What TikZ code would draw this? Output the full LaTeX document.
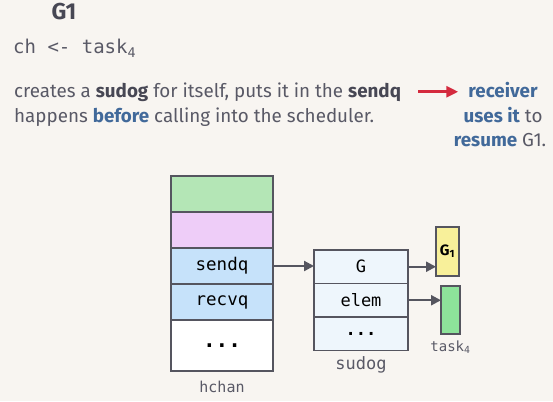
\documentclass[tikz,border=0pt]{standalone}
\usepackage{fontspec}
\setmainfont{Fira Sans}
\setmonofont{DejaVu Sans Mono}
\usepackage{tikz}
\usetikzlibrary{arrows.meta, positioning}
\definecolor{bgcol}{HTML}{F8F5F1}
\definecolor{txtgray}{HTML}{595966}
\definecolor{darkgray}{HTML}{474754}
\definecolor{kwblue}{HTML}{41699A}
\definecolor{edgegray}{HTML}{55555F}
\definecolor{cellgreen}{HTML}{B4E6B6}
\definecolor{cellpink}{HTML}{EECDF8}
\definecolor{cellblue}{HTML}{C6E2FA}
\definecolor{sudogfill}{HTML}{EEF6FC}
\definecolor{gyellow}{HTML}{F8F09A}
\definecolor{tgreen}{HTML}{8DE39A}
\definecolor{arrred}{HTML}{D42A3E}
\newcommand{\kw}[1]{\textcolor{kwblue}{\textbf{#1}}}
\newcommand{\hl}[1]{\textcolor{darkgray}{\textbf{#1}}}
\tikzset{
  chancell/.style={rectangle, draw=edgegray, line width=2pt, outer sep=0pt, inner sep=0pt, minimum width=102pt, minimum height=36pt, text=black, font=\ttfamily\fontsize{17.5}{17.5}\selectfont},
  sudogcell/.style={rectangle, draw=edgegray, line width=1.4pt, outer sep=0pt, inner sep=0pt, minimum width=94pt, minimum height=33.5pt, fill=sudogfill, text=black, font=\ttfamily\fontsize{17}{17}\selectfont},
  objbox/.style={rectangle, draw=edgegray, line width=1.8pt, outer sep=0pt, inner sep=0pt},
  boxlabel/.style={text=txtgray, font=\ttfamily\fontsize{14}{14}\selectfont},
  ptrarr/.style={draw=edgegray, line width=2.2pt, -{Triangle[length=10pt, width=10pt]}},
  redarr/.style={draw=arrred, line width=3pt, -{Triangle[length=12pt, width=11pt]}},
}
\begin{document}
\begin{tikzpicture}[x=1pt, y=-1pt, text=txtgray, font=\fontsize{18.8}{18.8}\selectfont]
\useasboundingbox[fill=bgcol] (0,0) rectangle (553,401);

\node[text=darkgray, font=\bfseries\fontsize{23}{23}\selectfont] (title) at (64,12) {G1};
\node[anchor=west, inner sep=0pt, font=\ttfamily\fontsize{19}{19}\selectfont] (code) at (13,48) {ch <- task\textsubscript{4}};
\node[anchor=base west, inner sep=0pt] (desc1) at (14,97) {creates a \hl{sudog} for itself, puts it in the \hl{sendq}};
\node[anchor=base west, inner sep=0pt] (desc2) at (14,122) {happens \kw{before} calling into the scheduler.};
\node[anchor=base, inner sep=0pt] (recv1) at (503,97) {\kw{receiver}};
\node[anchor=base, inner sep=0pt] (recv2) at (503,122) {\kw{uses it} to};
\node[anchor=base, inner sep=0pt] (recv3) at (500,146) {\kw{resume} G1.};
\draw[redarr, shorten <=17pt, shorten >=10pt] (desc1.east) -- (desc1.east -| recv1.west);

\node[chancell, fill=cellgreen] (cgreen) at (222,194) {};
\node[chancell, fill=cellpink, below=0pt of cgreen] (cpink) {};
\node[chancell, fill=cellblue, below=0pt of cpink] (sendq) {sendq};
\node[chancell, fill=cellblue, below=0pt of sendq] (recvq) {recvq};
\node[chancell, fill=white, minimum height=51pt, below=0pt of recvq, font=\ttfamily\bfseries\fontsize{21}{21}\selectfont] (cmore) {...};
\node[boxlabel, font=\ttfamily\fontsize{15}{15}\selectfont, below=7pt of cmore] (hchan) {hchan};

\node[sudogcell] (sg) at (361,266.75) {G};
\node[sudogcell, below=0pt of sg] (se) {elem};
\node[sudogcell, below=0pt of se, font=\ttfamily\bfseries\fontsize{17}{17}\selectfont] (smore) {...};
\node[boxlabel, font=\ttfamily\fontsize{17}{17}\selectfont, below=3pt of smore] (sudog) {sudog};

\node[objbox, fill=gyellow, minimum width=23pt, minimum height=49pt, text=black, font=\bfseries\fontsize{15}{15}\selectfont] (gone) at (447.5,251.5) {G\textsubscript{1}};
\node[objbox, fill=tgreen, minimum width=19pt, minimum height=48pt] (tfour) at (450.5,310) {};
\node[boxlabel, below=3pt of tfour] (task) {task\textsubscript{4}};

\draw[ptrarr] (sendq.east) -- (sendq.east -| sg.west);
\draw[ptrarr] (sg.east) -- (sg.east -| gone.west);
\draw[ptrarr] (se.east) -- (se.east -| tfour.west);
\end{tikzpicture}
\end{document}
